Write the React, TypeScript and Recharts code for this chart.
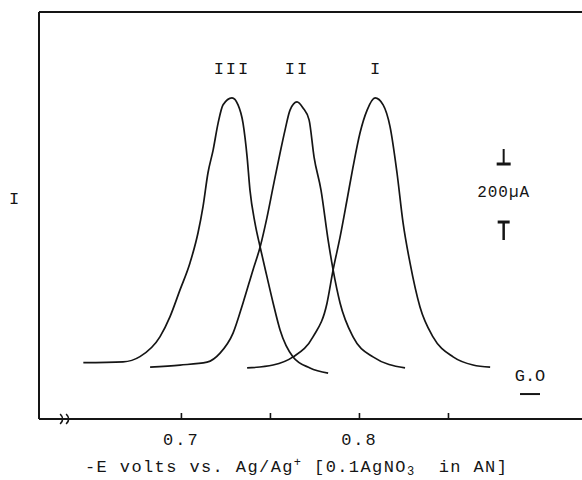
import React from "react"
import { LineChart, Line, XAxis, YAxis, ReferenceLine, ReferenceDot, Label } from "recharts"

// -E (V vs Ag/Ag+) and current (µA, zero = G.O line)
const voltsIII = [0.6449, 0.6672, 0.6767, 0.688, 0.6936, 0.6992, 0.7048, 0.7093, 0.7121, 0.7149, 0.7178, 0.7206, 0.7234, 0.7284, 0.7318, 0.7346, 0.7369, 0.7385, 0.7413, 0.7442, 0.7481, 0.7515, 0.7554, 0.7627, 0.7722, 0.7824]
const currentIII = [108, 111, 129, 198, 267, 359, 452, 555, 645, 762, 841, 934, 997, 1021, 997, 934, 817, 703, 590, 507, 403, 314, 221, 128, 90, 72]

const voltsII = [0.6824, 0.6992, 0.7144, 0.7217, 0.729, 0.7346, 0.7402, 0.7442, 0.7481, 0.7515, 0.7554, 0.7582, 0.761, 0.7649, 0.7683, 0.7717, 0.7745, 0.7784, 0.7824, 0.7852, 0.7891, 0.7964, 0.8076, 0.8256]
const currentII = [93, 100, 110, 141, 210, 314, 428, 507, 610, 714, 831, 910, 979, 1007, 986, 945, 817, 703, 531, 428, 314, 197, 128, 90]

const voltsI = [0.7369, 0.7515, 0.7627, 0.7739, 0.7818, 0.7852, 0.7891, 0.793, 0.7964, 0.8003, 0.8043, 0.8088, 0.8133, 0.8172, 0.8211, 0.8245, 0.8284, 0.834, 0.8413, 0.8526, 0.8638, 0.8734]
const currentI = [90, 100, 128, 197, 314, 428, 541, 669, 783, 900, 979, 1021, 997, 921, 762, 590, 452, 300, 197, 128, 100, 93]

const peakNames = ["III", "II", "I"]
const peakVolts = [0.7284, 0.7649, 0.8093]
const xTicks = [0.7, 0.75, 0.8, 0.85]
const xTickLabels: Record<string, string> = { "0.7": "0.7", "0.8": "0.8" }

const xDomain = [0.62, 0.925]
const yDomain = [-86, 1317]
const labelLevel = 1103
const scaleVolt = 0.881
const scaleTop = 793
const scaleBottom = 593
const goVolt = 0.8958
const breakVolt = 0.633

const ink = "#151515"
const font = '"Liberation Mono", "DejaVu Sans Mono", monospace'

const zip = (v: number[], c: number[]) => v.map((x, i) => ({ v: x, i: c[i] }))
const seriesIII = zip(voltsIII, currentIII)
const seriesII = zip(voltsII, currentII)
const seriesI = zip(voltsI, currentI)

const VoltTick = (props: any) => {
  const { x, y, payload } = props
  const text = xTickLabels[String(payload.value)]
  return (
    <g>
      <line x1={x} y1={y} x2={x} y2={y - 6} stroke={ink} strokeWidth={1.6} />
      {text && (
        <text x={x} y={y + 26} textAnchor="middle" fontFamily={font} fontSize={17} letterSpacing={2} fill={ink}>
          {text}
        </text>
      )}
    </g>
  )
}

const AxisTitle = (props: any) => {
  const { x, y } = props.viewBox
  return (
    <text x={x + 46} y={y + 53} fontFamily={font} fontSize={17} letterSpacing={1.4} fill={ink}>
      -E volts vs. Ag/Ag
      <tspan dy={-6} fontSize={12}>+</tspan>
      <tspan dy={6}>{" [0.1AgNO"}</tspan>
      <tspan dy={3} fontSize={12}>3</tspan>
      <tspan dy={-3}>{"\u00a0\u00a0in AN]"}</tspan>
    </text>
  )
}

const CurrentTitle = (props: any) => {
  const { y } = props.viewBox
  return (
    <text x={14} y={y + 192} textAnchor="middle" fontFamily={font} fontSize={17} fill={ink}>
      I
    </text>
  )
}

const peakText = (name: string) => (p: any) => (
  <text x={p.cx} y={p.cy} textAnchor="middle" fontFamily={font} fontSize={17} letterSpacing={2} fill={ink}>
    {name}
  </text>
)

const upperMark = (p: any) => (
  <g stroke={ink} strokeWidth={2}>
    <line x1={p.cx} y1={p.cy - 15} x2={p.cx} y2={p.cy} />
    <line x1={p.cx - 7} y1={p.cy} x2={p.cx + 7} y2={p.cy} strokeWidth={3} />
  </g>
)

const lowerMark = (p: any) => (
  <g stroke={ink} strokeWidth={2}>
    <line x1={p.cx - 6} y1={p.cy} x2={p.cx + 6} y2={p.cy} strokeWidth={3} />
    <line x1={p.cx} y1={p.cy} x2={p.cx} y2={p.cy + 18} strokeWidth={2.5} />
  </g>
)

const scaleText = (p: any) => (
  <text x={p.cx} y={p.cy} textAnchor="middle" dominantBaseline="central" fontFamily={font} fontSize={16} letterSpacing={1} fill={ink}>
    200µA
  </text>
)

const goMark = (p: any) => (
  <g>
    <line x1={p.cx - 10} y1={p.cy} x2={p.cx + 10} y2={p.cy} stroke={ink} strokeWidth={2} />
    <text x={p.cx} y={p.cy - 13} textAnchor="middle" fontFamily={font} fontSize={17} fill={ink}>
      G.O
    </text>
  </g>
)

const breakMark = (p: any) => (
  <g fill="none" stroke={ink} strokeWidth={1.6}>
    <path d={`M${p.cx - 2},${p.cy - 5} Q${p.cx + 3},${p.cy} ${p.cx - 2},${p.cy + 5}`} />
    <path d={`M${p.cx + 4},${p.cy - 5} Q${p.cx + 9},${p.cy} ${p.cx + 4},${p.cy + 5}`} />
  </g>
)

export default function App() {
  return (
    <div style={{ background: "#fff" }}>
      <style>{"body{margin:0}"}</style>
      <LineChart width={582} height={480} margin={{ top: 12, right: 0, bottom: 0, left: 0 }}>
        <XAxis
          type="number"
          dataKey="v"
          domain={xDomain}
          allowDataOverflow
          ticks={xTicks}
          interval={0}
          height={61}
          tickSize={0}
          tickMargin={0}
          tickLine={false}
          tick={<VoltTick />}
          axisLine={{ stroke: ink, strokeWidth: 2 }}
        >
          <Label content={<AxisTitle />} />
        </XAxis>
        <YAxis
          type="number"
          domain={yDomain}
          allowDataOverflow
          width={39}
          tick={false}
          tickLine={false}
          axisLine={{ stroke: ink, strokeWidth: 2 }}
        >
          <Label content={<CurrentTitle />} />
        </YAxis>
        <ReferenceLine y={yDomain[1]} stroke={ink} strokeWidth={2} />
        <Line data={seriesIII} dataKey="i" type="monotone" stroke={ink} strokeWidth={1.7} dot={false} activeDot={false} isAnimationActive={false} />
        <Line data={seriesII} dataKey="i" type="monotone" stroke={ink} strokeWidth={1.7} dot={false} activeDot={false} isAnimationActive={false} />
        <Line data={seriesI} dataKey="i" type="monotone" stroke={ink} strokeWidth={1.7} dot={false} activeDot={false} isAnimationActive={false} />
        {peakNames.map((n, k) => (
          <ReferenceDot key={n} x={peakVolts[k]} y={labelLevel} r={0} shape={peakText(n)} />
        ))}
        <ReferenceDot x={scaleVolt} y={scaleTop} r={0} shape={upperMark} />
        <ReferenceDot x={scaleVolt} y={scaleBottom} r={0} shape={lowerMark} />
        <ReferenceDot x={scaleVolt} y={(scaleTop + scaleBottom) / 2} r={0} shape={scaleText} />
        <ReferenceDot x={goVolt} y={0} r={0} shape={goMark} />
        <ReferenceDot x={breakVolt} y={yDomain[0]} r={0} shape={breakMark} ifOverflow="visible" />
      </LineChart>
    </div>
  )
}
